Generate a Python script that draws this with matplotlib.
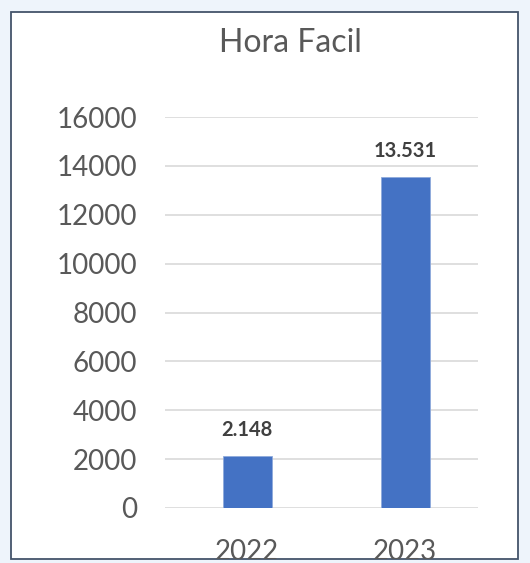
import matplotlib
matplotlib.use("Agg")
import matplotlib.pyplot as plt
from matplotlib.patches import Rectangle

# data
YEARS = ["2022", "2023"]
VALUES = [2148, 13531]
VALUE_LABELS = ["2.148", "13.531"]
YTICKS = [0, 2000, 4000, 6000, 8000, 10000, 12000, 14000, 16000]

BAR_COLOR = "#4472C4"
TEXT_COLOR = "#595959"
BG = "#EEF4FB"

plt.rcParams["font.family"] = ["Lato", "DejaVu Sans"]

W, H = 530, 563
fig = plt.figure(figsize=(W / 100, H / 100), dpi=100)
fig.patch.set_facecolor(BG)

# white chart box with dark border
box = Rectangle((11 / W, 1 - 559 / H), 507 / W, 547 / H, transform=fig.transFigure,
                facecolor="white", edgecolor="#44546A", linewidth=1.3, zorder=-5)
fig.patches.append(box)

ax = fig.add_axes([165 / W, 1 - 508 / H, 313 / W, 391 / H])
ax.set_facecolor("none")
x = range(len(YEARS))
ax.bar(x, VALUES, width=0.31, color=BAR_COLOR, edgecolor="#8FAADC", linewidth=0.6, zorder=3)
for xi, v, lab in zip(x, VALUES, VALUE_LABELS):
    ax.text(xi, v + 650, lab, ha="center", va="bottom", fontsize=14.5,
            fontweight="bold", color="#404040")

ax.set_xlim(-0.52, 1.46)
ax.set_ylim(0, 16000)
ax.set_yticks(YTICKS)
ax.set_yticklabels([str(t) for t in YTICKS])
ax.set_xticks(list(x))
ax.set_xticklabels(YEARS)
ax.tick_params(axis="y", length=0, pad=20, labelsize=20, labelcolor=TEXT_COLOR)
ax.tick_params(axis="x", length=0, pad=22, labelsize=20, labelcolor=TEXT_COLOR)
ax.yaxis.grid(True, color="#D9D9D9", linewidth=1.2, zorder=0)
ax.set_axisbelow(True)
for s in ax.spines.values():
    s.set_visible(False)

for lab in ax.get_xticklabels():
    lab.set_clip_path(box)

fig.text(290 / W, 1 - 43 / H, "Hora Facil", ha="center", va="center",
         fontsize=23, color=TEXT_COLOR)

fig.savefig("out.png", dpi=100, facecolor=BG)
